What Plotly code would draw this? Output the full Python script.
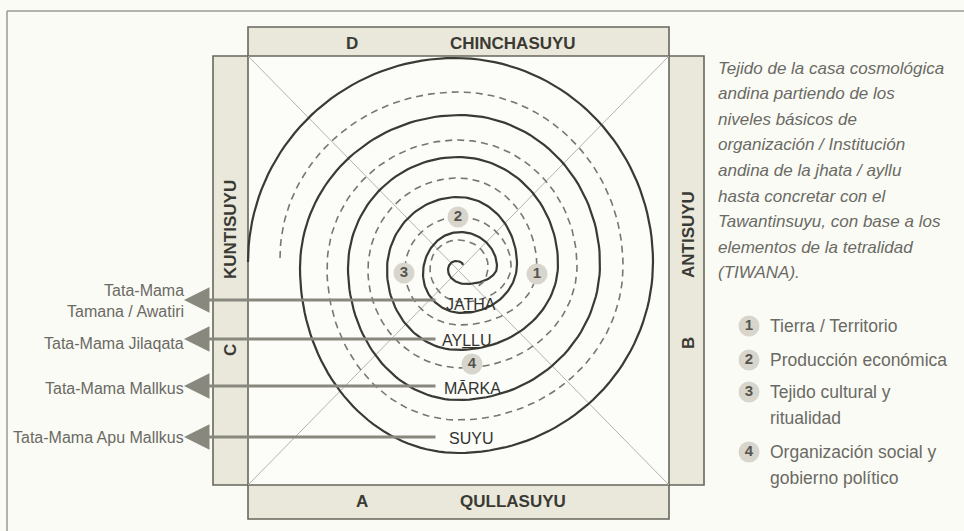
import numpy as np
import plotly.graph_objects as go

W, H = 964, 531

# ---------------- content ----------------
suyu_top = ["D", "CHINCHASUYU"]
suyu_bottom = ["A", "QULLASUYU"]
suyu_left = ["KUNTISUYU", "C"]
suyu_right = ["ANTISUYU", "B"]

levels = ["JAT̲HA", "AYL̲L̲U", "MĀRKA", "SUYU"]
level_x = [471, 467, 472, 471]
level_y = [304, 340, 388, 438]

authorities = ["Tata-Mama<br>Tamana / Awatiri", "Tata-Mama Jilaqata",
               "Tata-Mama Mallkus", "Tata-Mama Apu Mallkus"]
authority_y = [301, 343, 388, 437]
arrow_y = [300, 339, 386, 437]

element_ids = ["1", "2", "3", "4"]
element_x = [537, 458, 404, 472]
element_y = [274, 217, 273, 364]

element_names = ["Tierra / Territorio", "Producción económica",
                 "Tejido cultural y<br>ritualidad",
                 "Organización social y<br>gobierno político"]
legend_y = [326, 360, 392, 452]

description = ["Tejido de la casa cosmológica",
               "andina partiendo de los",
               "niveles básicos de",
               "organización / Institución",
               "andina de la jhata / ayllu",
               "hasta concretar con el",
               "Tawantinsuyu, con base a los",
               "elementos de la tetralidad",
               "(TIWANA)."]

# spiral extremes (left/top/right/bottom alternating)
solid_x = [248, 455, 653, 458, 300, 460, 600, 458, 348, 458, 558, 458, 387, 458, 517, 462, 423, 460, 497, 466, 448, 456, 463]
solid_y = [262, 58, 262, 453, 268, 115, 264, 400, 268, 157, 264, 350, 270, 197, 264, 313, 274, 232, 267, 284, 270, 261, 265]
dash_x = [280, 458, 623, 458, 327, 458, 577, 462, 368, 458, 537, 460, 405, 459, 511, 462, 430, 458, 488, 476]
dash_y = [258, 92, 266, 420, 268, 140, 266, 368, 270, 178, 268, 325, 270, 217, 266, 302, 268, 240, 266, 286]

# ---------------- style ----------------
BG = "#fbfbf6"
BAND = "#eae8da"
INNER = "#fcfcf8"
EDGE = "#66665c"
DARK = "#3a3a35"
GREY = "#6a6a64"
SANS = "Liberation Sans, Arial, sans-serif"


def spiral(xs, ys, n=40):
    px, py = [], []
    for i in range(len(xs) - 1):
        if i % 2 == 0:
            cx, cy = xs[i + 1], ys[i]
        else:
            cx, cy = xs[i], ys[i + 1]
        rx = max(abs(xs[i] - cx), abs(xs[i + 1] - cx))
        ry = max(abs(ys[i] - cy), abs(ys[i + 1] - cy))
        a0 = np.arctan2((ys[i] - cy) / ry, (xs[i] - cx) / rx)
        a1 = np.arctan2((ys[i + 1] - cy) / ry, (xs[i + 1] - cx) / rx)
        d = (a1 - a0 + np.pi) % (2 * np.pi) - np.pi
        t = np.linspace(a0, a0 + d, n)
        px.extend(cx + rx * np.cos(t))
        py.extend(cy + ry * np.sin(t))
    return px, py


fig = go.Figure()
shapes = []
# frame
shapes.append(dict(type="line", x0=7, y0=11, x1=W, y1=11, line=dict(color="#9a9a92", width=1.5)))
shapes.append(dict(type="line", x0=7, y0=11, x1=7, y1=H, line=dict(color="#9a9a92", width=1.5)))
# bands
shapes.append(dict(type="rect", x0=248, y0=27, x1=669, y1=519, fillcolor=BAND, line=dict(width=0), layer="below"))
shapes.append(dict(type="rect", x0=213, y0=56, x1=704, y1=485, fillcolor=BAND, line=dict(width=0), layer="below"))
shapes.append(dict(type="rect", x0=248, y0=56, x1=669, y1=485, fillcolor=INNER, line=dict(width=0), layer="below"))
shapes.append(dict(type="rect", x0=248, y0=27, x1=669, y1=519, line=dict(color=EDGE, width=1.6), layer="below"))
shapes.append(dict(type="rect", x0=213, y0=56, x1=704, y1=485, line=dict(color=EDGE, width=1.6), layer="below"))
# diagonals
shapes.append(dict(type="line", x0=248, y0=56, x1=669, y1=485, line=dict(color="#b4b4ac", width=1), layer="below"))
shapes.append(dict(type="line", x0=669, y0=56, x1=248, y1=485, line=dict(color="#b4b4ac", width=1), layer="below"))

sx, sy = spiral(solid_x, solid_y)
fig.add_trace(go.Scatter(x=sx, y=sy, mode="lines", line=dict(color=DARK, width=2.2), hoverinfo="skip"))
dx, dy = spiral(dash_x, dash_y)
fig.add_trace(go.Scatter(x=dx, y=dy, mode="lines", line=dict(color="#77776f", width=1.6, dash="7px,5px"), hoverinfo="skip"))

# element markers on spiral
fig.add_trace(go.Scatter(x=element_x, y=element_y, mode="markers+text", text=[f"<b>{t}</b>" for t in element_ids],
                         marker=dict(size=21, color="#d8d6cc", line=dict(width=0)),
                         textfont=dict(family=SANS, size=15, color="#55554f"),
                         textposition="middle center", hoverinfo="skip"))
# legend markers
fig.add_trace(go.Scatter(x=[749] * 4, y=legend_y, mode="markers+text", text=[f"<b>{t}</b>" for t in element_ids],
                         marker=dict(size=21, color="#d8d6cc", line=dict(width=0)),
                         textfont=dict(family=SANS, size=15, color="#55554f"),
                         textposition="middle center", hoverinfo="skip"))

ann = []
BF = dict(family=SANS, size=17, color=DARK)
# band labels
ann.append(dict(x=352, y=43, text="<b>" + suyu_top[0] + "</b>", font=BF))
ann.append(dict(x=513, y=43, text="<b>" + suyu_top[1] + "</b>", font=BF))
ann.append(dict(x=362, y=501, text="<b>" + suyu_bottom[0] + "</b>", font=BF))
ann.append(dict(x=513, y=501, text="<b>" + suyu_bottom[1] + "</b>", font=BF))
ann.append(dict(x=230, y=230, text="<b>" + suyu_left[0] + "</b>", textangle=-90, font=BF))
ann.append(dict(x=230, y=350, text="<b>" + suyu_left[1] + "</b>", textangle=-90, font=BF))
ann.append(dict(x=688, y=235, text="<b>" + suyu_right[0] + "</b>", textangle=-90, font=BF))
ann.append(dict(x=688, y=343, text="<b>" + suyu_right[1] + "</b>", textangle=-90, font=BF))

# arrows
for yv in arrow_y:
    ann.append(dict(x=184, y=yv, ax=436, ay=yv, axref="x", ayref="y", text="", showarrow=True,
                    arrowhead=2, arrowsize=1.7, arrowwidth=3, arrowcolor="#88887e", standoff=0, startstandoff=0))

# level labels
for t, xv, yv in zip(levels, level_x, level_y):
    ann.append(dict(x=xv, y=yv, text=t, font=dict(family=SANS, size=16, color="#333330")))

# authorities
for t, yv in zip(authorities, authority_y):
    ann.append(dict(x=185, y=yv, text=t, xanchor="right", align="right",
                    font=dict(family=SANS, size=16, color=GREY)))

# description
for i, t in enumerate(description):
    ann.append(dict(x=717, y=68 + 25.6 * i, text=f"<i>{t}</i>", xanchor="left",
                    font=dict(family=SANS, size=17, color=GREY)))

# legend text
for t, yv in zip(element_names, legend_y):
    lines = t.split("<br>")
    for j, ln in enumerate(lines):
        ann.append(dict(x=769, y=yv + 26 * j, text=ln, xanchor="left",
                        font=dict(family=SANS, size=17.5, color=GREY)))

for a in ann:
    a.setdefault("xref", "x")
    a.setdefault("yref", "y")
    a.setdefault("showarrow", False)
    a.setdefault("borderpad", 0)

fig.update_layout(
    width=W, height=H, margin=dict(l=0, r=0, t=0, b=0),
    paper_bgcolor=BG, plot_bgcolor=BG, showlegend=False,
    xaxis=dict(range=[0, W], visible=False, fixedrange=True),
    yaxis=dict(range=[H, 0], visible=False, fixedrange=True),
    shapes=shapes, annotations=ann,
)
fig.write_html("out.html", config={"displayModeBar": False, "staticPlot": True},
               post_script="document.body.style.margin='0';document.body.style.overflow='hidden';document.body.style.background='" + BG + "';")
